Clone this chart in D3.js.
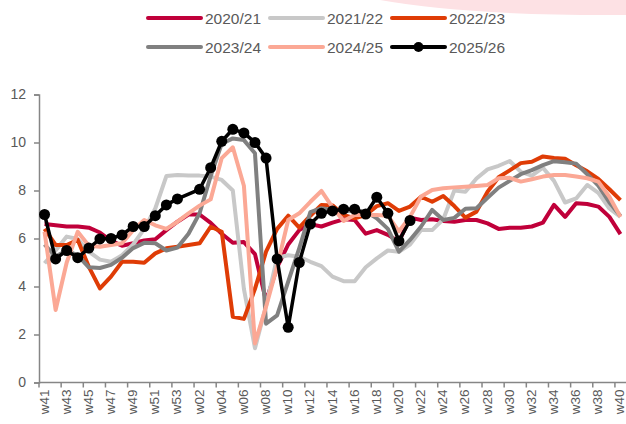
<!DOCTYPE html>
<html>
<head>
<meta charset="utf-8">
<script src="https://cdn.jsdelivr.net/npm/d3@7"></script>
<style>
  body { margin: 0; background: #fff; }
  svg { display: block; font-family: "Liberation Sans", Arial, sans-serif; }
</style>
</head>
<body>
<svg id="chart" width="626" height="424"></svg>
<script>
const weeks = ["w41","w42","w43","w44","w45","w46","w47","w48","w49","w50","w51","w52","w53",
  "w01","w02","w03","w04","w05","w06","w07","w08","w09","w10","w11","w12","w13","w14","w15",
  "w16","w17","w18","w19","w20","w21","w22","w23","w24","w25","w26","w27","w28","w29","w30",
  "w31","w32","w33","w34","w35","w36","w37","w38","w39","w40"];

const s2020 = [6.6,6.55,6.5,6.5,6.45,6.25,5.9,5.7,5.8,5.92,5.97,6.35,6.7,7.0,7.0,6.65,6.2,5.82,5.85,5.35,3.4,4.8,5.75,6.35,6.6,6.5,6.66,6.8,6.77,6.2,6.35,6.15,5.87,6.87,6.77,6.8,6.73,6.7,6.77,6.77,6.63,6.4,6.45,6.45,6.5,6.66,7.4,6.9,7.47,7.44,7.33,6.9,6.18];
const s2021 = [4.97,5.5,6.08,5.98,5.45,5.12,5.03,5.3,5.75,6.4,7.25,8.6,8.65,8.62,8.62,8.58,8.44,8.0,3.9,1.43,3.2,5.2,5.3,5.24,5.03,4.85,4.41,4.22,4.22,4.8,5.17,5.5,5.45,5.75,6.35,6.35,6.8,8.0,7.95,8.5,8.88,9.03,9.23,8.78,8.62,8.95,8.4,7.5,7.67,8.23,7.9,7.25,6.9];
const s2022 = [6.4,5.73,5.73,5.94,4.82,3.92,4.41,5.03,5.03,4.99,5.38,5.59,5.66,5.73,5.8,6.49,6.28,2.74,2.65,3.9,5.45,6.4,6.95,6.45,6.95,7.4,7.38,6.98,6.84,6.98,7.35,7.47,7.15,7.33,7.74,7.53,7.77,7.35,6.87,7.12,7.95,8.55,8.84,9.14,9.2,9.42,9.35,9.32,9.05,8.8,8.48,8.05,7.6];
const s2023 = [5.75,5.25,5.5,5.3,4.8,4.77,4.9,5.2,5.6,5.82,5.8,5.5,5.62,6.2,7.05,8.6,9.95,10.17,10.1,9.55,2.45,2.8,4.2,5.6,7.1,7.26,7.19,7.12,7.19,7.12,6.84,6.4,5.45,5.94,6.5,7.19,6.77,6.86,7.24,7.26,7.7,8.12,8.4,8.68,8.85,9.06,9.22,9.18,9.12,8.68,8.2,7.5,6.94];
const s2024 = [6.28,3.02,5.0,6.28,5.7,5.66,5.73,5.8,6.35,6.77,6.55,6.4,6.7,7.05,7.37,7.63,9.35,9.8,8.2,1.63,3.16,4.83,6.77,7.05,7.53,7.98,7.3,6.73,6.98,6.98,6.98,6.95,6.3,6.9,7.75,8.02,8.09,8.13,8.16,8.19,8.23,8.51,8.53,8.37,8.47,8.58,8.65,8.65,8.58,8.51,8.37,7.74,6.9];
const s2025 = [7.0,5.15,5.5,5.2,5.6,5.98,6.0,6.15,6.5,6.5,6.95,7.4,7.65,null,8.05,8.95,10.05,10.55,10.4,10.0,9.35,5.15,2.3,5.0,6.6,7.05,7.15,7.22,7.22,7.02,7.72,7.05,5.9,6.75];

const seriesNames = ["2020/21","2021/22","2022/23","2023/24","2024/25","2025/26"];
const seriesValues = [s2020, s2021, s2022, s2023, s2024, s2025];
const seriesColors = ["#c0003a","#c8c8c8","#df3c06","#808080","#fba895","#000000"];
const yTicks = [0,2,4,6,8,10,12];
const xTickWeeks = weeks.filter((w, i) => i % 2 === 0);

const svg = d3.select("#chart");
const textColor = "#595959";
const axisColor = "#868686";

// pink decoration top right
svg.append("path")
  .attr("d", "M380,0 Q470,16 626,15 L626,0 Z")
  .attr("fill", "#fde1e4");

const x = d3.scaleBand().domain(weeks).range([39, 626]);
const cx = w => x(w) + x.bandwidth() / 2;
const y = d3.scaleLinear().domain([0, 12]).range([382.5, 94.5]);

// y axis
const yAxis = svg.append("g").attr("transform", "translate(39,0)")
  .call(d3.axisLeft(y).tickValues(yTicks).tickSize(5).tickPadding(8));
yAxis.select(".domain").attr("stroke", axisColor).attr("stroke-width", 1.5);
yAxis.selectAll(".tick line").attr("stroke", axisColor).attr("stroke-width", 1.5);
yAxis.selectAll("text").attr("fill", textColor).style("font-size", "14px")
  .style("font-family", "Liberation Sans, Arial, sans-serif");

// x axis
svg.append("line").attr("x1", 39).attr("x2", 626).attr("y1", y(0)).attr("y2", y(0))
  .attr("stroke", axisColor).attr("stroke-width", 1.5);
svg.selectAll(".xtick").data(xTickWeeks).join("line").attr("class", "xtick")
  .attr("x1", d => x(d)).attr("x2", d => x(d))
  .attr("y1", y(0)).attr("y2", y(0) + 5)
  .attr("stroke", axisColor).attr("stroke-width", 1.5);
svg.selectAll(".xlabel").data(xTickWeeks).join("text").attr("class", "xlabel")
  .attr("transform", d => `translate(${cx(d) + 4},${y(0) + 7}) rotate(-90)`)
  .attr("text-anchor", "end")
  .attr("fill", textColor).style("font-size", "13.5px")
  .text(d => d);

// lines
const line = d3.line().x(d => cx(d.w)).y(d => y(d.v));
seriesValues.forEach((vals, si) => {
  const pts = vals.map((v, i) => ({w: weeks[i], v: v})).filter(d => d.v !== null);
  svg.append("path").datum(pts)
    .attr("d", line)
    .attr("fill", "none")
    .attr("stroke", seriesColors[si])
    .attr("stroke-width", si === 5 ? 3.5 : 4)
    .attr("stroke-linejoin", "round");
  if (si === 5) {
    svg.selectAll(".dot").data(pts).join("circle").attr("class", "dot")
      .attr("cx", d => cx(d.w)).attr("cy", d => y(d.v)).attr("r", 5.5)
      .attr("fill", "#000");
  }
});

// legend
const legX = [148, 270, 392];
const legY = [18, 47];
seriesNames.forEach((name, i) => {
  const lx = legX[i % 3], ly = legY[Math.floor(i / 3)];
  const g = svg.append("g");
  g.append("line").attr("x1", lx).attr("x2", lx + 53).attr("y1", ly).attr("y2", ly)
    .attr("stroke", seriesColors[i]).attr("stroke-width", 4).attr("stroke-linecap", "round");
  if (i === 5) g.append("circle").attr("cx", lx + 26.5).attr("cy", ly).attr("r", 5).attr("fill", "#000");
  g.append("text").attr("x", lx + 57).attr("y", ly + 5.5)
    .attr("fill", textColor).style("font-size", "15.5px").text(name);
});
</script>
</body>
</html>
